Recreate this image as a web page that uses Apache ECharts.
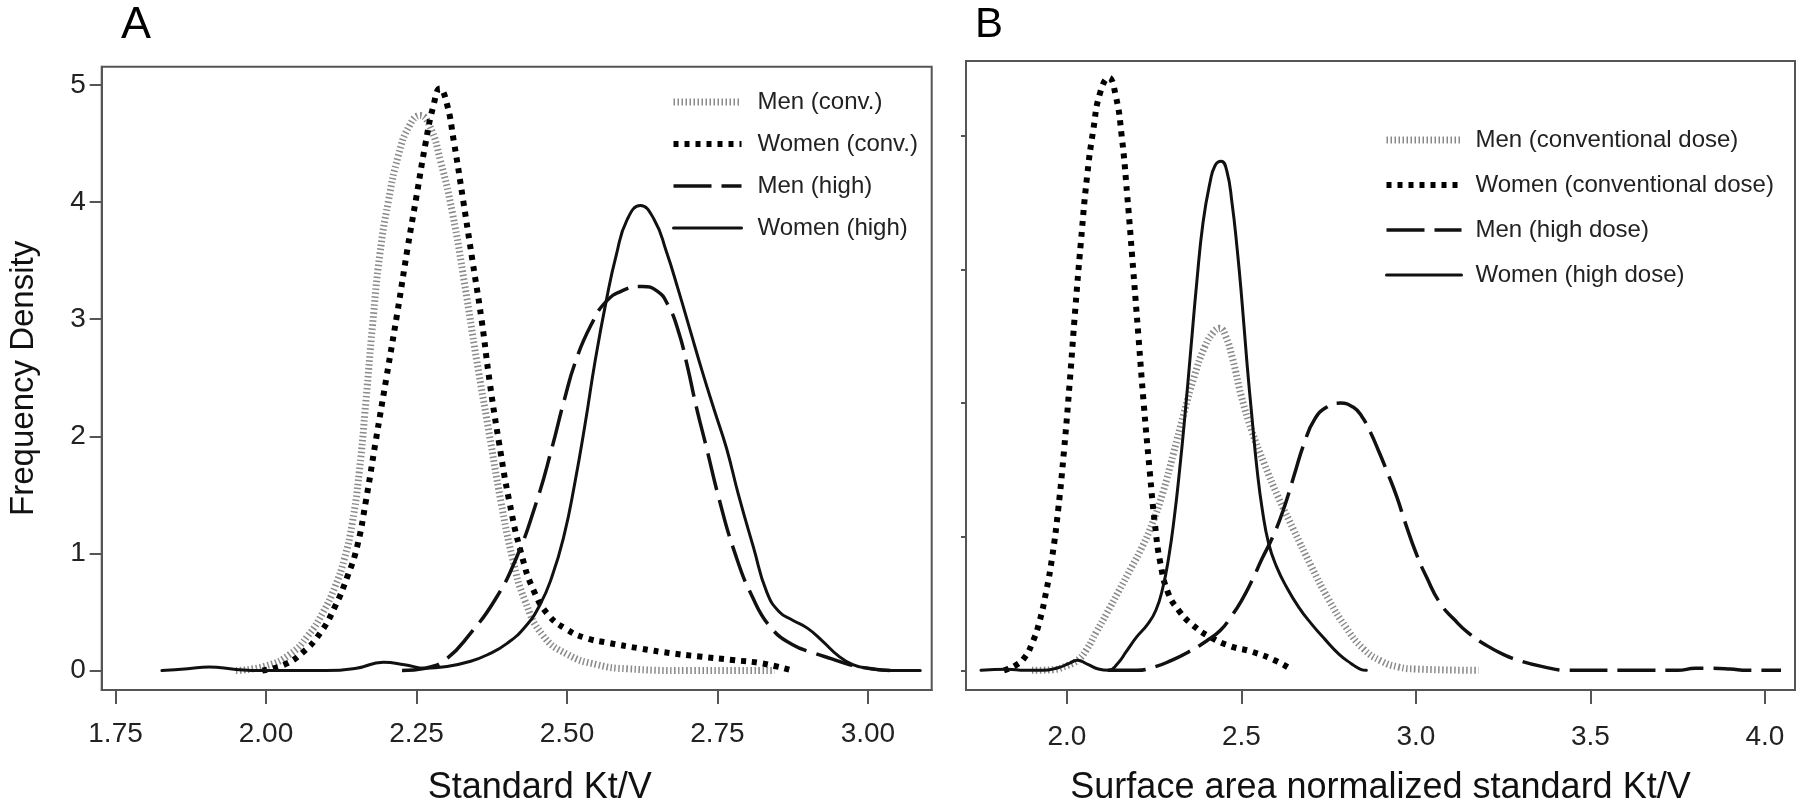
<!DOCTYPE html>
<html>
<head>
<meta charset="utf-8">
<script src="https://cdn.jsdelivr.net/npm/echarts@6.0.0/dist/echarts.min.js"></script>
<style>html,body{margin:0;padding:0;background:#fff}#c{width:1802px;height:811px}</style>
</head>
<body>
<div id="c"></div>
<script>
// ---- tick labels / categories ----
const aXTicks = [1.75, 2.00, 2.25, 2.50, 2.75, 3.00];
const aYTicks = [0, 1, 2, 3, 4, 5];
const bXTicks = [2.0, 2.5, 3.0, 3.5, 4.0];
const bYTicks = [0, 1, 2, 3, 4];
const aNames = ['Men (conv.)', 'Women (conv.)', 'Men (high)', 'Women (high)'];
const bNames = ['Men (conventional dose)', 'Women (conventional dose)', 'Men (high dose)', 'Women (high dose)'];
const aXTitle = 'Standard Kt/V';
const bXTitle = 'Surface area normalized standard Kt/V';
const yTitle = 'Frequency Density';

// ---- Panel A series [Kt/V, density] ----
const aMenConv = [[1.95,0],[2.0,0.04],[2.04,0.14],[2.07,0.3],[2.095,0.5],[2.115,0.72],[2.13,0.95],[2.143,1.25],[2.155,1.7],[2.166,2.3],[2.177,2.95],[2.189,3.55],[2.203,4.0],[2.22,4.4],[2.238,4.65],[2.256,4.74],[2.272,4.65],[2.29,4.35],[2.31,3.9],[2.33,3.3],[2.35,2.65],[2.37,2.05],[2.39,1.45],[2.41,0.95],[2.43,0.6],[2.46,0.3],[2.5,0.14],[2.55,0.05],[2.6,0.015],[2.7,0],[2.845,0]];
const aWomenConv = [[1.994,0],[2.03,0.05],[2.06,0.15],[2.09,0.32],[2.115,0.55],[2.135,0.8],[2.151,1.05],[2.166,1.45],[2.182,1.95],[2.2,2.5],[2.218,3.05],[2.235,3.6],[2.25,4.05],[2.265,4.5],[2.278,4.82],[2.289,4.97],[2.3,4.85],[2.312,4.52],[2.328,4.0],[2.343,3.5],[2.358,3.0],[2.372,2.45],[2.387,1.95],[2.404,1.45],[2.424,1.0],[2.445,0.68],[2.47,0.47],[2.5,0.35],[2.53,0.28],[2.57,0.235],[2.62,0.19],[2.67,0.15],[2.72,0.12],[2.775,0.09],[2.825,0.06],[2.875,0]];
const aMenHigh = [[2.226,0],[2.265,0.02],[2.3,0.1],[2.34,0.32],[2.38,0.6],[2.415,0.95],[2.45,1.45],[2.475,1.9],[2.495,2.3],[2.515,2.65],[2.54,2.95],[2.565,3.15],[2.595,3.25],[2.625,3.28],[2.65,3.24],[2.668,3.12],[2.685,2.9],[2.7,2.6],[2.715,2.25],[2.732,1.9],[2.752,1.48],[2.778,1.02],[2.808,0.63],[2.84,0.36],[2.875,0.22],[2.91,0.15],[2.94,0.1],[2.97,0.05],[3.0,0.02],[3.037,0]];
const aWomenHigh = [[1.827,0],[1.87,0.015],[1.905,0.03],[1.95,0.01],[1.99,0],[2.1,0],[2.15,0.02],[2.195,0.07],[2.23,0.05],[2.265,0.02],[2.3,0.035],[2.34,0.08],[2.37,0.14],[2.4,0.23],[2.43,0.37],[2.455,0.56],[2.475,0.8],[2.495,1.15],[2.513,1.6],[2.53,2.1],[2.547,2.65],[2.565,3.15],[2.582,3.55],[2.6,3.85],[2.622,3.97],[2.645,3.85],[2.665,3.58],[2.685,3.25],[2.705,2.9],[2.725,2.55],[2.745,2.22],[2.765,1.9],[2.785,1.5],[2.81,1.05],[2.832,0.67],[2.853,0.5],[2.875,0.43],[2.9,0.36],[2.925,0.25],[2.95,0.13],[2.975,0.05],[3.0,0.02],[3.04,0],[3.087,0]];

// ---- Panel B series [normalized Kt/V, density] ----
const bMenConv = [[1.9,0],[1.96,0.005],[2.0,0.035],[2.03,0.075],[2.055,0.15],[2.085,0.29],[2.115,0.43],[2.15,0.6],[2.185,0.77],[2.215,0.92],[2.245,1.1],[2.275,1.33],[2.305,1.62],[2.335,1.92],[2.365,2.2],[2.395,2.42],[2.42,2.53],[2.438,2.56],[2.455,2.5],[2.475,2.33],[2.5,2.05],[2.53,1.79],[2.565,1.55],[2.605,1.3],[2.65,1.05],[2.7,0.78],[2.75,0.53],[2.8,0.32],[2.85,0.16],[2.9,0.07],[2.95,0.025],[3.0,0.01],[3.18,0]];
const bWomenConv = [[1.82,0],[1.855,0.04],[1.88,0.1],[1.9,0.2],[1.92,0.35],[1.94,0.58],[1.958,0.85],[1.975,1.2],[1.992,1.65],[2.008,2.15],[2.024,2.7],[2.04,3.2],[2.058,3.7],[2.076,4.05],[2.095,4.32],[2.12,4.435],[2.14,4.3],[2.157,4.0],[2.173,3.55],[2.19,3.0],[2.205,2.5],[2.22,2.0],[2.237,1.5],[2.252,1.1],[2.268,0.8],[2.29,0.58],[2.32,0.45],[2.36,0.34],[2.41,0.25],[2.47,0.18],[2.53,0.14],[2.6,0.07],[2.647,0]];
const bMenHigh = [[2.117,0],[2.2,0],[2.25,0.025],[2.3,0.075],[2.35,0.14],[2.4,0.22],[2.44,0.3],[2.47,0.4],[2.5,0.52],[2.53,0.67],[2.56,0.84],[2.59,1.0],[2.62,1.2],[2.65,1.45],[2.68,1.7],[2.71,1.88],[2.745,1.97],[2.784,2.0],[2.82,1.97],[2.845,1.9],[2.87,1.78],[2.895,1.63],[2.92,1.47],[2.945,1.3],[2.97,1.1],[3.0,0.88],[3.03,0.7],[3.07,0.5],[3.11,0.38],[3.15,0.28],[3.2,0.19],[3.25,0.12],[3.3,0.07],[3.36,0.03],[3.435,0],[3.6,0],[3.75,0],[3.8,0.015],[3.85,0.015],[3.9,0.01],[3.95,0],[4.046,0]];
const bWomenHigh = [[1.754,0],[1.83,0.008],[1.88,0],[1.93,0],[1.975,0.02],[2.005,0.05],[2.03,0.075],[2.06,0.045],[2.09,0.01],[2.12,0],[2.145,0.05],[2.17,0.14],[2.2,0.25],[2.23,0.34],[2.255,0.45],[2.275,0.62],[2.292,0.85],[2.308,1.15],[2.323,1.5],[2.338,1.9],[2.355,2.4],[2.372,2.9],[2.39,3.35],[2.41,3.65],[2.425,3.78],[2.442,3.81],[2.458,3.74],[2.473,3.5],[2.488,3.15],[2.502,2.75],[2.516,2.3],[2.53,1.9],[2.545,1.5],[2.56,1.2],[2.578,0.95],[2.6,0.78],[2.63,0.62],[2.665,0.47],[2.7,0.35],[2.74,0.23],[2.78,0.12],[2.815,0.05],[2.84,0.01],[2.858,0]];

// ---- styles ----
const SANS = "'Liberation Sans', Arial, sans-serif";
const AXC = '#555';
const styles = [
  {color: '#8a8a8a', width: 7, type: [1.5, 2.5], cap: 'butt'},
  {color: '#000000', width: 6, type: [5, 6], cap: 'butt'},
  {color: '#111111', width: 3.5, type: [38, 10], cap: 'butt'},
  {color: '#111111', width: 3, type: 'solid', cap: 'round'}
];

function mkSeries(name, data, idx, st, z) {
  return {
    name: name, type: 'line', data: data,
    xAxisIndex: idx, yAxisIndex: idx,
    symbol: 'none', smooth: 0.5,
    color: st.color, z: z,
    lineStyle: {color: st.color, width: st.width, type: st.type, cap: st.cap, join: 'round'},
    animation: false
  };
}

function xAxisCfg(idx, min, max, ticks, dec, title, margin, namePad) {
  return {
    gridIndex: idx, type: 'value', min: min, max: max,
    axisLine: {show: true, onZero: false, lineStyle: {color: AXC, width: 2}},
    axisTick: {show: true, inside: false, length: 14, customValues: ticks, lineStyle: {color: AXC, width: 2}},
    axisLabel: {show: true, customValues: ticks, margin: margin, formatter: v => v.toFixed(dec),
      fontFamily: SANS, fontSize: 28, color: '#222'},
    splitLine: {show: false},
    name: title, nameLocation: 'middle', nameGap: 80,
    nameTextStyle: {fontFamily: SANS, fontSize: 36, color: '#111', padding: namePad}
  };
}

function yAxisCfg(idx, min, max, ticks, showLab, tickLen, title) {
  return {
    gridIndex: idx, type: 'value', min: min, max: max,
    axisLine: {show: true, onZero: false, lineStyle: {color: AXC, width: 2}},
    axisTick: {show: true, inside: false, length: tickLen, customValues: ticks, lineStyle: {color: AXC, width: 2}},
    axisLabel: {show: showLab, customValues: ticks, margin: 16, formatter: v => String(v),
      fontFamily: SANS, fontSize: 28, color: '#222'},
    splitLine: {show: false},
    name: title, nameLocation: 'middle', nameGap: 61,
    nameTextStyle: {fontFamily: SANS, fontSize: 33, color: '#111'}
  };
}

function legendCfg(names, left, top, w, gap, pad) {
  return {
    data: names, orient: 'vertical', left: left, top: top, padding: 0,
    itemWidth: w, itemHeight: 14, itemGap: gap, selectedMode: false,
    itemStyle: {opacity: 0},
    lineStyle: {width: 'inherit'},
    textStyle: {fontFamily: SANS, fontSize: 24, color: '#222', lineHeight: 28, padding: [0, 0, 0, pad]}
  };
}

const chart = echarts.init(document.getElementById('c'), null, {renderer: 'canvas'});
chart.setOption({
  backgroundColor: '#ffffff',
  animation: false,
  title: [
    {text: 'A', left: 121, top: 3, padding: 0, textStyle: {fontFamily: SANS, fontSize: 45, fontWeight: 'normal', color: '#000'}},
    {text: 'B', left: 975, top: 4, padding: 0, textStyle: {fontFamily: SANS, fontSize: 42, fontWeight: 'normal', color: '#000'}}
  ],
  grid: [
    {left: 101.7, top: 66.7, width: 830, height: 626, show: true, borderColor: AXC, borderWidth: 2, backgroundColor: 'transparent'},
    {left: 966, top: 61, width: 829, height: 631.7, show: true, borderColor: AXC, borderWidth: 2, backgroundColor: 'transparent'}
  ],
  xAxis: [
    xAxisCfg(0, 1.727, 3.106, aXTicks, 2, aXTitle, 30, [0, 0, 0, 46]),
    xAxisCfg(1, 1.711, 4.086, bXTicks, 1, bXTitle, 33, 0)
  ],
  yAxis: [
    yAxisCfg(0, -0.166, 5.156, aYTicks, true, 12, yTitle),
    yAxisCfg(1, -0.147, 4.56, bYTicks, false, 5, '')
  ],
  legend: [
    legendCfg(aNames, 670, 88, 68, 14, 11),
    legendCfg(bNames, 1383, 126, 75, 17, 9)
  ],
  series: [
    mkSeries(aNames[0], aMenConv, 0, styles[0], 2),
    mkSeries(aNames[1], aWomenConv, 0, styles[1], 3),
    mkSeries(aNames[2], aMenHigh, 0, styles[2], 4),
    mkSeries(aNames[3], aWomenHigh, 0, styles[3], 5),
    mkSeries(bNames[0], bMenConv, 1, styles[0], 2),
    mkSeries(bNames[1], bWomenConv, 1, styles[1], 3),
    mkSeries(bNames[2], bMenHigh, 1, styles[2], 4),
    mkSeries(bNames[3], bWomenHigh, 1, styles[3], 5)
  ]
});
</script>
</body>
</html>
